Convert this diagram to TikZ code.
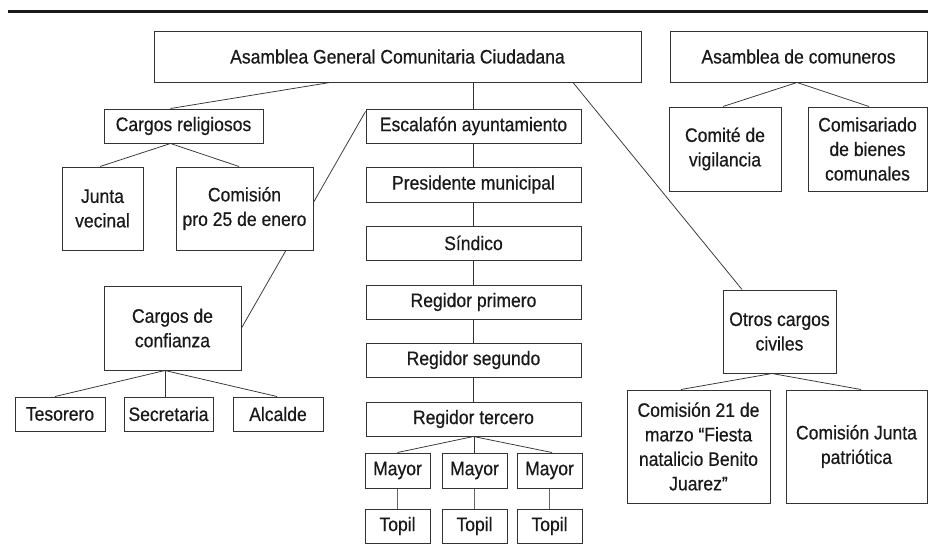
\documentclass[tikz,border=0pt]{standalone}
\usepackage{fontspec}
\setmainfont{Liberation Sans}[FakeStretch=0.9,FakeBold=0.5]
\usetikzlibrary{backgrounds}
\begin{document}
\begin{tikzpicture}[x=1pt,y=-1pt,
  box/.style={draw=black!80, line width=1pt, fill=white, inner sep=0pt, align=center,
              font=\fontsize{19.5}{24.5}\selectfont, text=black!90},
  sz/.style 2 args={minimum width=#1pt, minimum height=#2pt},
  conn/.style={draw=black!80, line width=0.75pt},
  vconn/.style={draw=black!60, line width=1.3pt}]
\useasboundingbox (0,0) rectangle (928,546);
\coordinate (ruleL) at (8,11);
\coordinate (ruleR) at (928,11);
\draw[line width=3pt, black!90] (ruleL) -- (ruleR);

% top level
\node[box, sz={487}{51}] (main) at (397.5,56.5) {Asamblea General Comunitaria Ciudadana};
\node[box, sz={257}{51}] (acom) at (798.5,56.5) {Asamblea de comuneros};

% religious branch
\node[box, sz={159}{34}] (cr) at (183.5,126) {Cargos religiosos};
\node[box, sz={81}{83}] (jv) at (102.5,208.5) {Junta\\vecinal};
\node[box, sz={137}{83}] (cp) at (244.5,208.5) {Comisión\\pro 25 de enero};

% ayuntamiento column
\node[box, sz={215}{34}] (esc) at (473.5,126) {Escalafón ayuntamiento};
\node[box, sz={215}{35}] (pm) at (473.5,184.5) {Presidente municipal};
\node[box, sz={215}{34}] (sin) at (473.5,243) {Síndico};
\node[box, sz={215}{34}] (r1) at (473.5,302) {Regidor primero};
\node[box, sz={215}{34}] (r2) at (473.5,360) {Regidor segundo};
\node[box, sz={215}{34}] (r3) at (473.5,419) {Regidor tercero};
\node[box, sz={65}{35}] (m1) at (397.5,470.5) {Mayor};
\node[box, sz={65}{35}] (m2) at (474.5,470.5) {Mayor};
\node[box, sz={65}{35}] (m3) at (549.5,470.5) {Mayor};
\node[box, sz={65}{34}] (t1) at (397.5,526) {Topil};
\node[box, sz={65}{34}] (t2) at (474.5,526) {Topil};
\node[box, sz={65}{34}] (t3) at (549.5,526) {Topil};

% cargos de confianza
\node[box, sz={137}{84}] (cc) at (172.5,328) {Cargos de\\confianza};
\node[box, sz={90}{34}] (tes) at (60,414) {Tesorero};
\node[box, sz={89}{34}] (sec) at (168.5,414) {Secretaria};
\node[box, sz={90}{34}] (alc) at (278,414) {Alcalde};

% comuneros
\node[box, sz={112}{84}] (com) at (725,149) {Comité de\\vigilancia};
\node[box, sz={119}{84}] (comis) at (867.5,149) {Comisariado\\de bienes\\comunales};

% otros cargos civiles
\node[box, sz={113}{83}] (otros) at (779.5,331.5) {Otros cargos\\civiles};
\node[box, sz={143}{113}] (c21) at (698.5,446.5) {Comisión 21 de\\marzo “Fiesta\\natalicio Benito\\Juarez”};
\node[box, sz={141}{113}] (cjp) at (856.5,446.5) {Comisión Junta\\patriótica};

\begin{pgfonlayer}{background}
  \draw[conn] ([xshift=-67.5]main.south) -- ([xshift=-13]cr.north);
  \draw[conn] (esc.north |- main.south) -- (esc.north);
  \draw[conn] ([xshift=175.5]main.south) -- ([xshift=-37.5]otros.north);
  \draw[conn] ([xshift=-13]cr.south) -- ([xshift=-2.5]jv.north);
  \draw[conn] ([xshift=-13]cr.south) -- ([xshift=-5.5]cp.north);
  \draw[conn] ([yshift=-3]esc.north west) -- (cc.east);
  \draw[conn] (esc) -- (pm);
  \draw[conn] (pm) -- (sin);
  \draw[conn] (sin) -- (r1);
  \draw[conn] (r1) -- (r2);
  \draw[conn] (r2) -- (r3);
  \draw[conn] (r3.south) -- (m1.north);
  \draw[conn] (r3.south) -- (m2.north |- r3.south) -- (m2.north);
  \draw[conn] (r3.south) -- ([xshift=2.5]m3.north);
  \draw[vconn] (m1) -- (t1);
  \draw[vconn] (m2) -- (t2);
  \draw[vconn] (m3) -- (t3);
  \draw[conn] ([xshift=-7.5]cc.south) -- ([xshift=-5]tes.north);
  \draw[conn] ([xshift=-7.5]cc.south) -- ([xshift=-3.5]sec.north);
  \draw[conn] ([xshift=-7.5]cc.south) -- ([xshift=-1]alc.north);
  \draw[conn] ([xshift=-1.5]acom.south) -- ([xshift=-2]com.north);
  \draw[conn] ([xshift=-1.5]acom.south) -- ([xshift=1.5]comis.north);
  \draw[conn] ([xshift=-7.5]otros.south) -- ([xshift=-17.5]c21.north);
  \draw[conn] ([xshift=-7.5]otros.south) -- ([xshift=4.5]cjp.north);
\end{pgfonlayer}
\end{tikzpicture}
\end{document}
